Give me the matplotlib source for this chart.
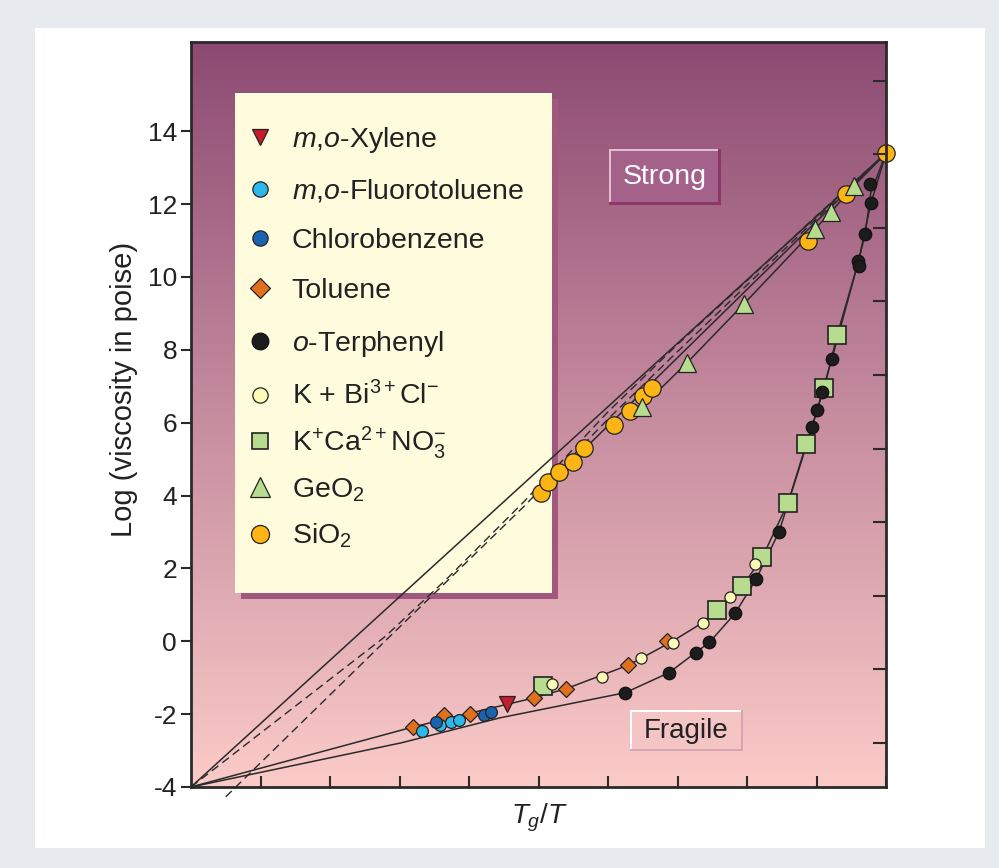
import matplotlib
matplotlib.use('Agg')
import matplotlib.pyplot as plt
import numpy as np
from matplotlib.patches import Rectangle
from matplotlib.colors import LinearSegmentedColormap
from matplotlib.legend import Legend

plt.rcParams['font.family'] = ['Liberation Sans', 'DejaVu Sans']
plt.rcParams['mathtext.fontset'] = 'custom'
plt.rcParams['mathtext.rm'] = 'Liberation Sans'
plt.rcParams['mathtext.it'] = 'Liberation Sans:italic'
plt.rcParams['mathtext.bf'] = 'Liberation Sans:bold'
plt.rcParams['axes.unicode_minus'] = False

# ---------------- data ----------------
xylene_x = [0.455]
xylene_y = [-1.71]

fluoro_x = [0.332, 0.358, 0.374, 0.385]
fluoro_y = [-2.46, -2.29, -2.21, -2.15]

chloro_x = [0.352, 0.421, 0.431]
chloro_y = [-2.21, -2.02, -1.93]

toluene_x = [0.320, 0.364, 0.401, 0.493, 0.539, 0.629, 0.685]
toluene_y = [-2.35, -2.02, -1.99, -1.55, -1.30, -0.64, 0.02]

terphenyl_x = [0.625, 0.688, 0.726, 0.746, 0.783, 0.813, 0.846, 0.894, 0.901,
               0.908, 0.922, 0.960, 0.961, 0.970, 0.978, 0.977]
terphenyl_y = [-1.41, -0.86, -0.31, -0.03, 0.77, 1.70, 3.00, 5.89, 6.36,
               6.83, 7.74, 10.44, 10.30, 11.18, 12.03, 12.56]

kbicl_x = [0.520, 0.591, 0.648, 0.694, 0.737, 0.776, 0.812]
kbicl_y = [-1.16, -0.97, -0.47, -0.06, 0.49, 1.21, 2.12]

kcano3_x = [0.506, 0.757, 0.793, 0.822, 0.859, 0.885, 0.911, 0.930]
kcano3_y = [-1.22, 0.85, 1.51, 2.31, 3.80, 5.42, 6.96, 8.42]

geo2_x = [0.649, 0.714, 0.795, 0.898, 0.921, 0.954]
geo2_y = [6.44, 7.65, 9.25, 11.32, 11.79, 12.50]

sio2_x = [0.503, 0.514, 0.530, 0.549, 0.565, 0.609, 0.631, 0.651, 0.664,
          0.888, 0.943, 1.000]
sio2_y = [4.07, 4.37, 4.65, 4.93, 5.31, 5.94, 6.33, 6.72, 6.96,
          10.99, 12.28, 13.40]

# guide curves
arrh_x = [0.0, 1.0]
arrh_y = [-4.0, 13.4]

dash1_x = [0.0, 0.28, 0.37, 0.48, 0.60, 0.70, 0.80, 0.90, 1.00]
dash1_y = [-4.0, 0.14, 1.75, 3.85, 6.30, 8.15, 9.90, 11.68, 13.40]

dash2_x = [0.05, 0.11, 0.28, 0.37, 0.48, 0.60, 0.70, 0.80, 0.90, 1.00]
dash2_y = [-4.27, -3.15, 0.02, 1.68, 3.72, 6.10, 7.95, 9.78, 11.60, 13.40]

sio2_fit_x = [0.503, 1.000]
sio2_fit_y = [4.10, 13.40]

geo2_fit_x = [0.649, 0.714, 0.795, 0.898, 0.921, 0.954, 1.000]
geo2_fit_y = [6.44, 7.65, 9.25, 11.32, 11.79, 12.50, 13.40]

frag1_x = [0.0, 0.32, 0.40, 0.49, 0.54, 0.63, 0.69, 0.737, 0.757, 0.793, 0.822,
           0.859, 0.885, 0.911, 0.930, 0.960, 0.978, 1.0]
frag1_y = [-4.0, -2.35, -1.98, -1.57, -1.30, -0.65, -0.03, 0.52, 0.85, 1.50, 2.30,
           3.80, 5.40, 6.95, 8.42, 10.40, 12.00, 13.40]

frag2_x = [0.0, 0.302, 0.445, 0.625, 0.688, 0.726, 0.746, 0.783, 0.813, 0.846,
           0.894, 0.908, 0.922, 0.960, 0.970, 0.978, 1.0]
frag2_y = [-4.0, -2.79, -2.10, -1.41, -0.86, -0.31, -0.03, 0.77, 1.70, 3.00,
           5.89, 6.83, 7.74, 10.40, 11.18, 12.30, 13.40]

yticks = [-4, -2, 0, 2, 4, 6, 8, 10, 12, 14]
right_ticks = [-2.79, -0.77, 1.25, 3.27, 5.29, 7.31, 9.33, 11.35, 13.37, 15.39]
xticks = [0.1, 0.2, 0.3, 0.4, 0.5, 0.6, 0.7, 0.8, 0.9, 1.0]

# ---------------- figure ----------------
W, H = 999, 868
fig = plt.figure(figsize=(W / 100, H / 100), dpi=100, facecolor='#E7EBEF')

def fx(px):
    return px / W

def fy(py):
    return 1 - py / H

def prect(x0, y0, x1, y1, color, z):
    r = Rectangle((fx(x0), fy(y1)), fx(x1) - fx(x0), fy(y0) - fy(y1),
                  transform=fig.transFigure, facecolor=color, edgecolor='none',
                  zorder=z)
    return r

fig.patches.append(prect(35, 28, 985, 848, 'white', -10))

ax = fig.add_axes([fx(191), fy(787), fx(886) - fx(191), fy(42) - fy(787)])
YMAX = 16.45
cmap = LinearSegmentedColormap.from_list('bg', ['#8C4A72', '#C68C9F', '#FBCBC8'])
ax.imshow(np.linspace(0, 1, 256).reshape(-1, 1), cmap=cmap, aspect='auto',
          extent=[0, 1, -4, YMAX], zorder=0, interpolation='bilinear')

# legend box and label boxes (behind lines)
ax.add_patch(prect(241, 99, 558, 599, '#A2577F', 1))
ax.add_patch(prect(235, 93, 552, 593, '#FEFCDC', 1.1))

ax.add_patch(prect(609, 149, 721, 205, '#8A386A', 1))
ax.add_patch(prect(609, 149, 718, 202, '#E2BCD0', 1.1))
ax.add_patch(prect(611, 151, 718, 202, '#A4618A', 1.2))
ax.text(fx(665), fy(177), 'Strong', color='white', fontsize=20.5,
        ha='center', va='center', zorder=5, transform=fig.transFigure)

ax.add_patch(prect(630, 710, 743, 751, '#D4A4B0', 1))
ax.add_patch(prect(630, 710, 741, 749, '#FFFFFF', 1.1))
ax.add_patch(prect(632, 712, 741, 749, '#F5C5C6', 1.2))
ax.text(fx(686.5), fy(731), 'Fragile', color='#222222', fontsize=20,
        ha='center', va='center', zorder=5, transform=fig.transFigure)

lc = '#2A2A2A'
ax.plot(arrh_x, arrh_y, color=lc, lw=1.1, zorder=2)
ax.plot(dash1_x, dash1_y, color=lc, lw=1.0, ls=(0, (6, 3.5)), zorder=2)
ax.plot(dash2_x, dash2_y, color=lc, lw=1.0, ls=(0, (6, 3.5)), zorder=2, clip_on=False)
ax.plot(sio2_fit_x, sio2_fit_y, color=lc, lw=1.1, zorder=2)
ax.plot(geo2_fit_x, geo2_fit_y, color=lc, lw=1.1, zorder=2)
ax.plot(frag1_x, frag1_y, color=lc, lw=1.1, zorder=2)
ax.plot(frag2_x, frag2_y, color=lc, lw=1.1, zorder=2)

ec = '#222222'
mew = 0.9
h_sio2, = ax.plot(sio2_x, sio2_y, ls='none', marker='o', ms=12.5, mfc='#FDB515',
                  mec=ec, mew=mew, zorder=3, clip_on=False, label='SiO$_2$')
h_geo2, = ax.plot(geo2_x, geo2_y, ls='none', marker='^', ms=13, mfc='#B7DB8F',
                  mec=ec, mew=mew, zorder=3.1, label='GeO$_2$')
h_kca, = ax.plot(kcano3_x, kcano3_y, ls='none', marker='s', ms=12.5, mfc='#B7DB8F',
                 mec=ec, mew=1.2, zorder=3.2, label='K$^{+}$Ca$^{2+}$NO$_3^{-}$')
h_ter, = ax.plot(terphenyl_x, terphenyl_y, ls='none', marker='o', ms=9, mfc='#1C1C1C',
                 mec='#111111', mew=mew, zorder=3.3, label='$\\it{o}$-Terphenyl')
h_tol, = ax.plot(toluene_x, toluene_y, ls='none', marker='D', ms=8.5, mfc='#E0701E',
                 mec=ec, mew=mew, zorder=3.4, label='Toluene')
h_kbi, = ax.plot(kbicl_x, kbicl_y, ls='none', marker='o', ms=8, mfc='#FDFBB8',
                 mec=ec, mew=mew, zorder=3.5, label='K + Bi$^{3+}$Cl$^{-}$')
h_flu, = ax.plot(fluoro_x, fluoro_y, ls='none', marker='o', ms=8.5, mfc='#2DB8EA',
                 mec=ec, mew=mew, zorder=3.6, label='$\\it{m}$,$\\it{o}$-Fluorotoluene')
h_chl, = ax.plot(chloro_x, chloro_y, ls='none', marker='o', ms=8.5, mfc='#1A63B0',
                 mec=ec, mew=mew, zorder=3.7, label='Chlorobenzene')
h_xyl, = ax.plot(xylene_x, xylene_y, ls='none', marker='v', ms=12, mfc='#C41E2A',
                 mec=ec, mew=mew, zorder=3.8, label='$\\it{m}$,$\\it{o}$-Xylene')

ax.set_xlim(0, 1)
ax.set_ylim(-4, YMAX)

# legend: one row per entry, rows at fixed pixel heights
handles = [h_xyl, h_flu, h_chl, h_tol, h_ter, h_kbi, h_kca, h_geo2, h_sio2]
leg_rows = [140, 191, 241, 291, 344, 396, 443, 490, 536]
leg_sizes = [12, 11, 11, 10, 12, 11, 11, 14, 13]
for hnd, row, s in zip(handles, leg_rows, leg_sizes):
    lg = Legend(ax, [hnd], [hnd.get_label()], loc='center left',
                bbox_to_anchor=(fx(246), fy(row)), bbox_transform=fig.transFigure,
                frameon=False, fontsize=20.5, handlelength=1.0, handletextpad=0.61,
                borderpad=0, borderaxespad=0, numpoints=1)
    lg.set_zorder(6)
    lg.legend_handles[0].set_markersize(s)
    for t in lg.get_texts():
        t.set_color('#222222')
    ax.add_artist(lg)

# axes styling
for sp in ax.spines.values():
    sp.set_linewidth(2.0)
    sp.set_color('#2A2A2A')
    sp.set_zorder(7)

ax.set_xticks(xticks)
ax.set_xticklabels([])
ax.tick_params(axis='x', direction='in', length=8, width=1.5, color='#2A2A2A',
               bottom=True, top=False)
ax.set_yticks(yticks)
ax.set_yticklabels([str(v) for v in yticks])
ax.tick_params(axis='y', direction='out', length=7.5, width=1.5, color='#2A2A2A',
               labelsize=19, labelcolor='#222222', pad=2.5, left=True, right=False)

ax2 = ax.twinx()
ax2.set_ylim(-4, YMAX)
ax2.set_yticks(right_ticks)
ax2.tick_params(axis='y', direction='in', length=9.5, width=1.5, color='#2A2A2A',
                labelright=False, right=True)
for sp in ax2.spines.values():
    sp.set_visible(False)

ax.set_xlabel('$T_g/T$', fontsize=20, color='#222222')
ax.xaxis.set_label_coords(0.502, -0.020)
ax.set_ylabel('Log (viscosity in poise)', fontsize=21, color='#222222')
ax.yaxis.set_label_coords(-0.076, 0.533)

fig.savefig('out.png', dpi=100, facecolor=fig.get_facecolor())
